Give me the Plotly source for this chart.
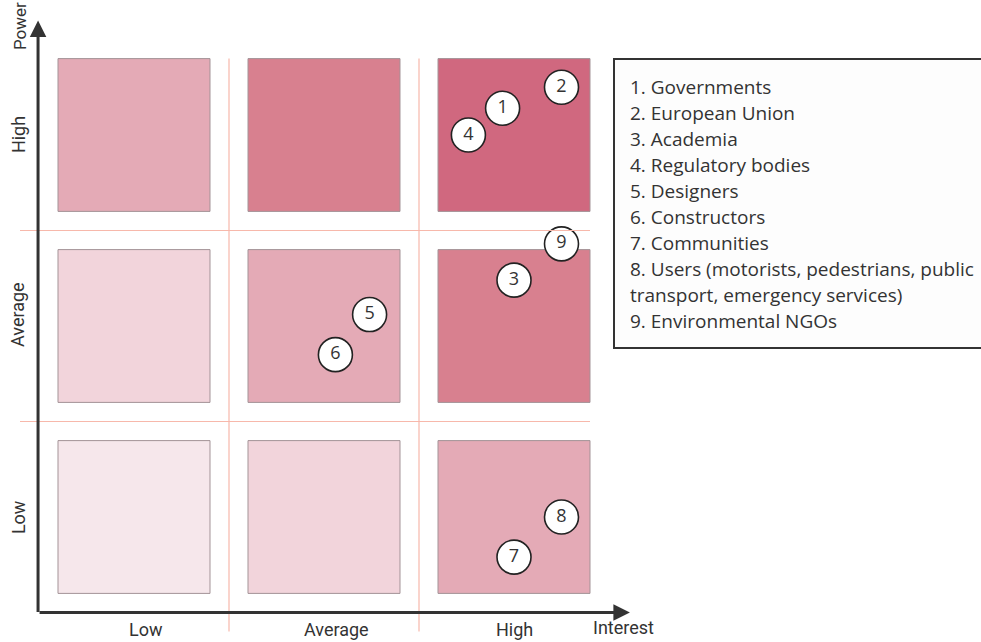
import plotly.graph_objects as go

# ---- data ----
levels = ["Low", "Average", "High"]          # categories for both axes
x_title = "Interest"
y_title = "Power"
stake_ids = ["1", "2", "3", "4", "5", "6", "7", "8", "9"]
stake_interest = [1.94, 2.25, 2.00, 1.76, 1.24, 1.06, 2.00, 2.25, 2.25]
stake_power = [2.14, 2.25, 1.24, 2.00, 1.06, 0.85, -0.21, 0.00, 1.43]
legend_lines = [
    "1. Governments",
    "2. European Union",
    "3. Academia",
    "4. Regulatory bodies",
    "5. Designers",
    "6. Constructors",
    "7. Communities",
    "8. Users (motorists, pedestrians, public",
    "transport, emergency services)",
    "9. Environmental NGOs",
]
shade_colors = ["#f6e7eb", "#f2d4db", "#e4aab6", "#d8808f", "#d0687f"]

W, H = 981, 642
fig = go.Figure()

shapes = []
# grid squares
half = 0.4
for r in range(3):
    for c in range(3):
        shapes.append(dict(type="rect", xref="x", yref="y",
                           x0=c - half, x1=c + half, y0=r - half, y1=r + half,
                           fillcolor=shade_colors[r + c],
                           line=dict(color="#a39397", width=1), layer="below"))
# separator lines
for k in (0.5, 1.5):
    shapes.append(dict(type="line", xref="x", yref="y", x0=k, x1=k, y0=-0.6, y1=2.4,
                       line=dict(color="#f7b8ab", width=1.2)))
    shapes.append(dict(type="line", xref="x", yref="y", x0=-0.6, x1=2.4, y0=k, y1=k,
                       line=dict(color="#f7b8ab", width=1.2)))
# legend box
shapes.append(dict(type="rect", xref="paper", yref="paper",
                   x0=614 / W, x1=1.01, y0=1 - 348 / H, y1=1 - 59 / H,
                   fillcolor="#fdfdfd", line=dict(color="#333333", width=2)))

fig.add_trace(go.Scatter(
    x=stake_interest, y=stake_power, mode="markers+text", text=stake_ids,
    textposition="middle center",
    textfont=dict(family="Open Sans", size=18, color="#333333"),
    marker=dict(size=34, color="white", line=dict(color="#222222", width=1.6)),
    hoverinfo="skip", showlegend=False,
))

annotations = []
axis_font = dict(family="Roboto", size=18, color="#333333")
# axis arrows
annotations.append(dict(x=2.61, y=-0.5, ax=-0.505, ay=-0.5, xref="x", yref="y",
                        axref="x", ayref="y", text="", showarrow=True, arrowhead=2,
                        arrowsize=1.1, arrowwidth=3, arrowcolor="#333333"))
annotations.append(dict(x=-0.505, y=2.6, ax=-0.505, ay=-0.505, xref="x", yref="y",
                        axref="x", ayref="y", text="", showarrow=True, arrowhead=2,
                        arrowsize=1.1, arrowwidth=3, arrowcolor="#333333"))
x_label_shift = [0.065, 0.065, 0.0]
y_label_shift = [0.0, 0.058, 0.0]
for i, lab in enumerate(levels):
    annotations.append(dict(x=i + x_label_shift[i], y=-0.59, xref="x", yref="y", text=lab,
                            showarrow=False, font=axis_font))
    annotations.append(dict(x=-0.61, y=i + y_label_shift[i], xref="x", yref="y", text=lab,
                            textangle=-90, showarrow=False, font=axis_font))
annotations.append(dict(x=2.575, y=-0.58, xref="x", yref="y", text=x_title,
                        showarrow=False, font=axis_font))
annotations.append(dict(x=-0.60, y=1.0, xref="x", yref="paper", yanchor="top",
                        text=y_title, textangle=-90, showarrow=False,
                        font=dict(family="Roboto", size=17, color="#333333")))
# legend text
for j, line in enumerate(legend_lines):
    annotations.append(dict(x=628 / W, y=1 - (87 + 26 * j) / H, xref="paper", yref="paper",
                            text=line, showarrow=False, xanchor="left", yanchor="middle",
                            font=dict(family="Open Sans", size=19, color="#333333")))

fig.update_layout(
    width=W, height=H, margin=dict(l=0, r=0, t=0, b=0),
    paper_bgcolor="white", plot_bgcolor="white",
    xaxis=dict(range=[-134 / 190, (W - 134) / 190], visible=False, fixedrange=True),
    yaxis=dict(range=[(517 - H) / 191, 517 / 191], visible=False, fixedrange=True),
    shapes=shapes, annotations=annotations,
)

fig.write_html("out.html", config={"displayModeBar": False},
               post_script="document.body.style.margin='0px';document.body.style.overflow='hidden';")
